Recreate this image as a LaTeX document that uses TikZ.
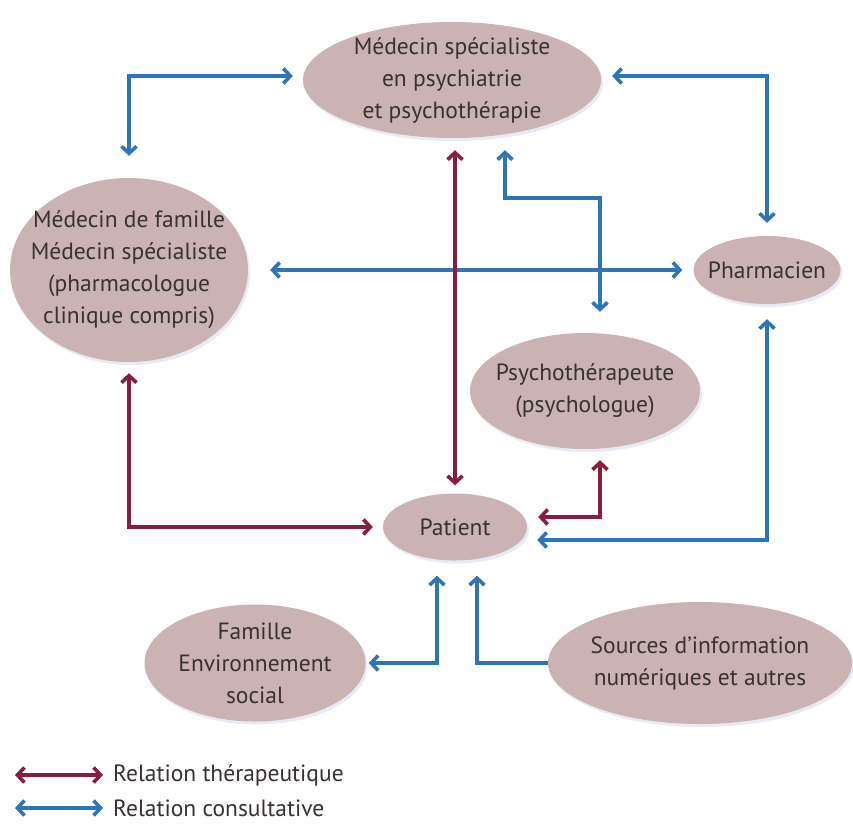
\documentclass[tikz,border=0pt]{standalone}
\usepackage{fontspec}
\setmainfont{PT Sans}
\usepackage{tikz}
\usetikzlibrary{shapes.geometric, arrows.meta, shadows, positioning, calc}

\definecolor{actorfill}{RGB}{203,179,179}
\definecolor{therred}{RGB}{138,28,62}
\definecolor{consblue}{RGB}{46,117,184}
\definecolor{txtgray}{RGB}{55,50,48}

\begin{document}
\begin{tikzpicture}[x=1pt, y=-1pt, >={Straight Barb[length=7pt, width=15pt]},
                % Define styles
                actor/.style={ellipse, fill=actorfill, inner sep=0pt,
                    drop shadow={fill=gray!60!blue!40, opacity=0.3, shadow xshift=2pt, shadow yshift=-3pt}},
                actortext/.style={text=txtgray, align=center, inner sep=0pt, font=\fontsize{23.5}{32}\selectfont},
                therline/.style={draw=therred, line width=3.6pt},
                consline/.style={draw=consblue, line width=3.6pt}
            ]
            \useasboundingbox (0,0) rectangle (853,823);

            % --- Nodes ---

            % 1. Psychiatrist
            \node [actor, minimum width=298, minimum height=116] (psych) at (452,80) {};
            \node [actortext] (psych-t) at (psych) {Médecin spécialiste\\en psychiatrie\\et psychothérapie};

            % 2. Family doctor
            \node [actor, minimum width=238, minimum height=184] (doctor) at (129,270) {};
            \node [actortext] (doctor-t) at (doctor) {Médecin de famille\\Médecin spécialiste\\(pharmacologue\\clinique compris)};

            % 3. Pharmacist
            \node [actor, minimum width=147, minimum height=68] (pharm) at (767,270) {};
            \node [actortext] (pharm-t) at (pharm) {Pharmacien};

            % 4. Psychotherapist
            \node [actor, minimum width=230, minimum height=116] (therap) at (585,391) {};
            \node [actortext] (therap-t) at (therap) {Psychothérapeute\\(psychologue)};

            % 5. Patient
            \node [actor, minimum width=144, minimum height=67] (patient) at (455,527) {};
            \node [actortext] (patient-t) at (patient) {Patient};

            % 6. Family
            \node [actor, minimum width=221, minimum height=117] (family) at (255,663) {};
            \node [actortext] (family-t) at (family) {Famille\\Environnement\\social};

            % 7. Sources
            \node [actor, minimum width=304, minimum height=122] (sources) at (700,663) {};
            \node [actortext] (sources-t) at (sources) {Sources d’information\\numériques et autres};

            % --- Edges ---

            % Consultative relations
            \path [consline, <->, shorten <=22pt, shorten >=10pt] (doctor.north) |- ([yshift=4pt]psych.west);
            \path [consline, <->, shorten <=11pt, shorten >=13pt] ([yshift=4pt]psych.east) -| (pharm.north);
            \path [consline, <->, shorten <=22pt, shorten >=11pt] (doctor.east) -- (doctor.east -| pharm.west);
            \path [consline, <->, shorten <=12pt, shorten >=21pt] ([xshift=53pt]psych.south) -- ++(0,60) -| ([xshift=15pt]therap.north);
            \path [consline, <->, shorten <=15pt, shorten >=10pt] (pharm.south) |- ([yshift=-13pt]patient.east);
            \path [consline, <->, shorten <=3pt, shorten >=15pt] (family.east) -| ([xshift=-18pt]patient.south);
            \path [consline, ->, shorten >=15pt] (sources.west) -| ([xshift=22pt]patient.south);

            % Therapeutic relations
            \path [therline, <->, shorten <=12pt, shorten >=8pt] (patient.north |- psych.south) -- (patient.north);
            \path [therline, <->, shorten <=11pt, shorten >=10pt] (doctor.south) |- (patient.west);
            \path [therline, <->, shorten <=11pt, shorten >=11pt] ([xshift=15pt]therap.south) |- ([yshift=10pt]patient.east);

            % --- Legend ---
            \coordinate (ther-start) at (15,775);
            \node [actortext, anchor=west] (ther-lab) at (113,775) {Relation thérapeutique};
            \path [therline, <->, shorten >=10pt] (ther-start) -- (ther-lab.west);

            \coordinate (cons-start) at (15,808);
            \node [actortext, anchor=west] (cons-lab) at (113,808) {Relation consultative};
            \path [consline, <->, shorten >=10pt] (cons-start) -- (cons-lab.west);

        \end{tikzpicture}
\end{document}
